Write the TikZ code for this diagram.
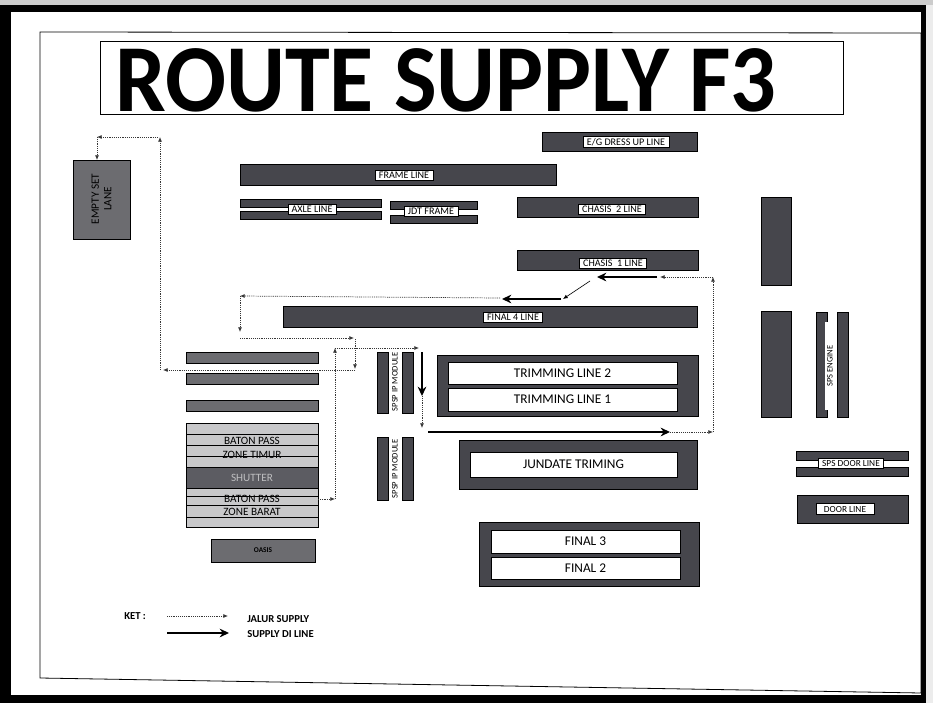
\documentclass[tikz,border=0pt]{standalone}
\usepackage{fontspec}
\setmainfont{Carlito}
\usetikzlibrary{arrows.meta}
\definecolor{dk}{RGB}{70,70,76}
\definecolor{md}{RGB}{108,108,112}
\definecolor{lt}{RGB}{200,200,202}
\definecolor{sh}{RGB}{92,92,98}
\definecolor{shtext}{RGB}{190,190,192}
\definecolor{dotc}{RGB}{55,55,55}
\begin{document}
\begin{tikzpicture}[x=0.75pt,y=-0.75pt,
  box/.style 2 args={anchor=north west, minimum width=#1*0.75pt, minimum height=#2*0.75pt,
    inner sep=0pt, outer sep=0pt, draw=black, line width=0.6pt},
  dkb/.style={fill=dk},
  mdb/.style={fill=md},
  ltb/.style={fill=lt, line width=0.5pt},
  wb/.style={fill=white},
  lab/.style={draw=black, line width=0.4pt, fill=white, inner xsep=2.8pt, inner ysep=1.4pt,
    font=\fontsize{7.6pt}{8.5pt}\selectfont},
  biglab/.style={font=\fontsize{10pt}{12pt}\selectfont},
  stk/.style={font=\fontsize{8.4pt}{9pt}\selectfont, inner sep=0pt},
  vlab/.style={rotate=90, inner sep=0pt, font=\fontsize{6.4pt}{7pt}\selectfont},
  route/.style={draw=dotc, line width=0.55pt, dash pattern=on 0.7pt off 0.7pt,
    -{Latex[length=3.5pt,width=3pt]}},
  feed/.style={draw=black, line width=1.4pt, -{Stealth[length=7pt,width=6.5pt]}},
  thin/.style={draw=black, line width=0.5pt, -{Latex[length=3.5pt,width=3pt]}},
  legtext/.style={anchor=west, inner sep=0pt, font=\bfseries\fontsize{8pt}{9pt}\selectfont}
]
\useasboundingbox (0,0) rectangle (933,703);
% photo frame
\fill[gray!40] (0,0) rectangle (933,5);
\fill[black] (0,5) rectangle (926,703);
\fill[gray!15] (926,5) rectangle (933,703);
\fill[white] (11,12) rectangle (921,695);
\draw[line width=0.6pt] (40,32) -- (921,33) -- (921,693) -- (40,678) -- cycle;

% title
\node[box={743}{73}, line width=0.7pt] (tbox) at (100,41) {};
\node[font=\bfseries\fontsize{72pt}{72pt}\selectfont, inner sep=0pt] (title) at (446,80) {\scalebox{0.94}[1]{ROUTE SUPPLY F3}};

% top lines
\node[box={155}{19}, dkb] (eg) at (542,132) {};
\node[lab] (eglab) at (626,142) {E/G DRESS UP LINE};
\node[box={316}{21}, dkb] (frame) at (240,164) {};
\node[lab] (framelab) at (404,175) {FRAME LINE};
\node[box={141}{8}, dkb] (axle1) at (240,199) {};
\node[box={141}{8}, dkb] (axle2) at (240,211) {};
\node[lab] (axlelab) at (312,209) {AXLE LINE};
\node[box={87}{8}, dkb] (jdt1) at (390,201) {};
\node[box={87}{8}, dkb] (jdt2) at (390,215) {};
\node[lab] (jdtlab) at (431,211) {JDT FRAME};
\node[box={181}{20}, dkb] (ch2) at (517,197) {};
\node[lab] (ch2lab) at (612,209) {CHASIS\ \ 2 LINE};
\node[box={181}{20}, dkb] (ch1) at (517,250) {};
\node[lab] (ch1lab) at (613,263) {CHASIS\ \ 1 LINE};
\node[box={414}{21}, dkb] (f4) at (283,306) {};
\node[lab] (f4lab) at (513,317) {FINAL 4 LINE};

% empty set lane
\node[box={57}{79}, mdb] (empty) at (73,160) {};
\node[rotate=90, align=center, inner sep=0pt, font=\fontsize{8.4pt}{9.5pt}\selectfont] (emptylab) at (101.5,199) {EMPTY SET\\LANE};

% left bars
\node[box={132}{11}, mdb] (lb1) at (186,352) {};
\node[box={132}{11}, mdb] (lb2) at (186,373) {};
\node[box={132}{11}, mdb] (lb3) at (186,400) {};

% baton pass stack
\node[box={132}{11}, ltb] (s0) at (186,423) {};
\node[box={132}{11}, ltb] (s1) at (186,434) {};
\node[box={132}{11}, ltb] (s2) at (186,445) {};
\node[box={132}{11}, ltb] (s3) at (186,456) {};
\node[box={132}{21}, fill=sh, line width=0.5pt] (shut) at (186,467) {};
\node[box={132}{8}, ltb] (s5) at (186,488) {};
\node[box={132}{9}, ltb] (s6) at (186,496) {};
\node[box={132}{12}, ltb] (s7) at (186,505) {};
\node[box={132}{10}, ltb] (s8) at (186,517) {};
\node[stk] (bp1) at (252,441) {BATON PASS};
\node[stk] (zt) at (252,455) {ZONE TIMUR};
\node[stk, text=shtext] (shutlab) at (252,478) {SHUTTER};
\node[stk] (bp2) at (252,499) {BATON PASS};
\node[stk] (zb) at (252,512) {ZONE BARAT};

% oasis
\node[box={104}{23}, mdb] (oasis) at (211,539) {};
\node[inner sep=0pt, font=\bfseries\fontsize{5.5pt}{6pt}\selectfont] (oasislab) at (263,550.5) {OASIS};

% SPSP IP modules
\node[box={11}{61}, dkb] (sp1a) at (377,352) {};
\node[box={11}{61}, dkb] (sp1b) at (402,352) {};
\node[vlab] (sp1lab) at (395,382) {SPSP IP MODULE};
\node[box={11}{63}, dkb] (sp2a) at (377,437) {};
\node[box={11}{63}, dkb] (sp2b) at (402,437) {};
\node[vlab] (sp2lab) at (395,469) {SPSP IP MODULE};

% trimming
\node[box={261}{61}, dkb] (trim) at (437,355) {};
\node[box={229}{22}, wb] (tl2) at (448,362) {};
\node[biglab] at (tl2.center) {TRIMMING LINE 2};
\node[box={229}{23}, wb] (tl1) at (448,388) {};
\node[biglab] at (tl1.center) {TRIMMING LINE 1};

% jundate
\node[box={238}{49}, dkb] (jund) at (459,440) {};
\node[box={207}{25}, wb] (jundin) at (470,452) {};
\node[biglab] at (jundin.center) {JUNDATE TRIMING};

% final 3 / 2
\node[box={220}{64}, dkb] (fin) at (479,522) {};
\node[box={189}{23}, wb] (f3) at (491,530) {};
\node[biglab] at (f3.center) {FINAL 3};
\node[box={189}{22}, wb] (f2) at (491,557) {};
\node[biglab] at (f2.center) {FINAL 2};

% right side
\node[box={30}{88}, dkb] (r1) at (761,197) {};
\node[box={30}{106}, dkb] (r2) at (761,311) {};
\node[box={11}{105}, dkb] (eng1) at (816,312) {};
\node[box={11}{105}, dkb] (eng2) at (837,312) {};
\node[vlab, fill=white, minimum width=88*0.75pt, minimum height=11*0.75pt] (englab) at (830,366) {SPS ENGINE};
\node[box={112}{9}, dkb] (sdl1) at (796,451) {};
\node[box={112}{9}, dkb] (sdl2) at (796,467) {};
\node[lab, font=\fontsize{7pt}{7.5pt}\selectfont, inner ysep=1.5pt] (sdllab) at (851,463.5) {SPS DOOR LINE};
\node[box={111}{28}, dkb] (door) at (797,495) {};
\node[lab, font=\fontsize{7pt}{7.5pt}\selectfont, inner xsep=6pt, inner ysep=2pt] (doorlab) at (845,509) {DOOR LINE};

% route coordinates
\coordinate (a1) at (713,432);
\coordinate (a2) at (713,277);
\coordinate (a3) at (660,277);
\coordinate (a4) at (657,277);
\coordinate (a5) at (597,277);
\coordinate (a6) at (590,281);
\coordinate (a7) at (563,299);
\coordinate (a8) at (561,299);
\coordinate (a9) at (502,299);
\coordinate (b1) at (500,298);
\coordinate (b2) at (240,296);
\coordinate (b3) at (240,332);
\coordinate (b4) at (240,338);
\coordinate (b5) at (354,338);
\coordinate (b5d) at (355,339);
\coordinate (b6) at (355,369);
\coordinate (b6s) at (355,370);
\coordinate (b7) at (163,370);
\coordinate (b8) at (160,370);
\coordinate (b9) at (160,137);
\coordinate (c0) at (158,137);
\coordinate (c1) at (97,137);
\coordinate (e0) at (318,499);
\coordinate (d1) at (335,499);
\coordinate (d2) at (335,348);
\coordinate (d3) at (419,348);
\coordinate (d4) at (422,352);
\coordinate (d5) at (422,396);
\coordinate (d6) at (422,428);
\coordinate (d7) at (428,432);
\coordinate (d8) at (670,432);

% supply route
\draw[route] (e0) -- (d1);
\draw[route] (d1) -- (d2);
\draw[route] (d2) -- (d3);
\draw[feed] (d4) -- (d5);
\draw[route] (d5) -- (d6);
\draw[feed] (d7) -- (d8);
\draw[route] (d8) -- (a1);
\draw[route] (a1) -- (a2);
\draw[route] (a2) -- (a3);
\draw[feed] (a4) -- (a5);
\draw[thin] (a6) -- (a7);
\draw[feed] (a8) -- (a9);
\draw[route] (b1) -- (b2);
\draw[route] (b2) -- (b3);
\draw[route] (b4) -- (b5);
\draw[route] (b5d) -- (b6);
\draw[route] (b6s) -- (b7);
\draw[route] (b8) -- (b9);
\draw[route] (c0) -- (c1);
\draw[route] (c1) -- (c1 |- empty.north);

% legend
\node[legtext] (ket) at (124,616) {KET :};
\coordinate (l1a) at (167,616);
\coordinate (l1b) at (228,616);
\coordinate (l2a) at (167,633);
\coordinate (l2b) at (229,633);
\draw[route] (l1a) -- (l1b);
\draw[feed] (l2a) -- (l2b);
\node[legtext] (jalur) at (247,619) {JALUR SUPPLY};
\node[legtext] (sdil) at (247,634) {SUPPLY DI LINE};
\end{tikzpicture}
\end{document}
